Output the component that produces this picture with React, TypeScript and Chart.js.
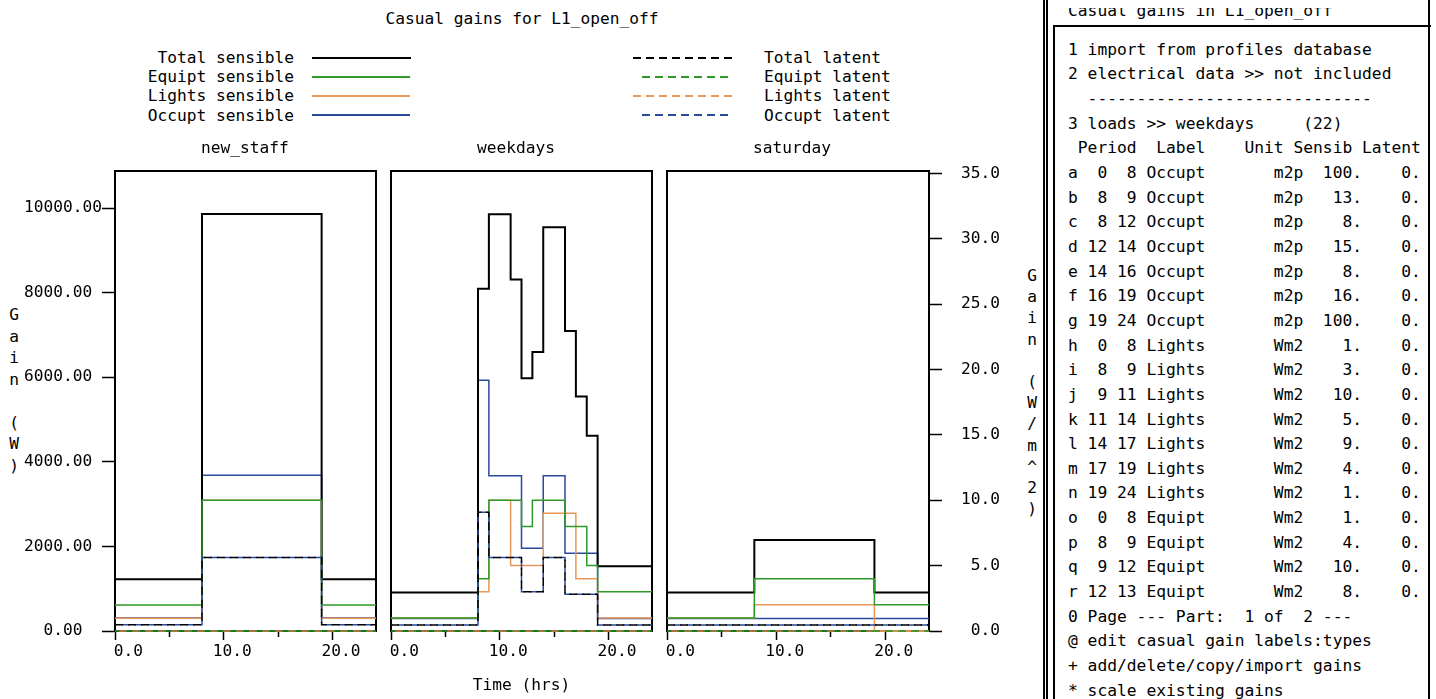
import React, { useEffect, useRef } from 'react';
import { Chart, registerables } from 'chart.js';

Chart.register(...registerables);

const MONO = "'DejaVu Sans Mono', monospace";

// ---------- texts ----------
const chartTitle = 'Casual gains for L1_open_off';
const panelTitles = ['new_staff', 'weekdays', 'saturday'];
const xAxisTitle = 'Time (hrs)';
const leftAxisTitle = 'Gain (W)';
const rightAxisTitle = 'Gain (W/m^2)';
const seriesNames = [
  'Total sensible', 'Equipt sensible', 'Lights sensible', 'Occupt sensible',
  'Total latent', 'Equipt latent', 'Lights latent', 'Occupt latent',
];

// ---------- ticks ----------
const xTickValues = [0, 5, 10, 15, 20];
const xTickLabels = ['0.0', '', '10.0', '', '20.0'];
const leftTickValues = [0, 2000, 4000, 6000, 8000, 10000];
const leftTickLabels = ['  0.00', '2000.00', '4000.00', '6000.00', '8000.00', '10000.00'];
const rightTickValues = [0, 5, 10, 15, 20, 25, 30, 35];
const rightTickLabels = ['0.0', '5.0', '10.0', '15.0', '20.0', '25.0', '30.0', '35.0'];
const leftAxisMax = 10875;
const rightAxisMax = 35.18;

// ---------- new_staff (W) ----------
const newStaffHours = [0, 8, 19, 24];
const newStaffTotalSensible = [1225, 9860, 1225];
const newStaffEquiptSensible = [615, 3090, 615];
const newStaffLightsSensible = [300, 3090, 300];
const newStaffOccuptSensible = [310, 3680, 310];
const newStaffTotalLatent = [147, 1735, 147];
const newStaffEquiptLatent = [0, 0, 0];
const newStaffLightsLatent = [0, 0, 0];
const newStaffOccuptLatent = [147, 1735, 147];

// ---------- weekdays (W/m^2) ----------
const weekdayHours = [0, 8, 9, 11, 12, 13, 14, 16, 17, 18, 19, 24];
const weekdayTotalSensible = [2.95, 26.18, 31.88, 26.88, 19.33, 21.33, 30.88, 22.94, 17.94, 14.94, 4.95];
const weekdayEquiptSensible = [1, 4, 10, 10, 8, 10, 10, 8, 8, 5, 3];
const weekdayLightsSensible = [1, 3, 10, 5, 5, 5, 9, 9, 4, 4, 1];
const weekdayOccuptSensible = [0.95, 19.18, 11.88, 11.88, 6.33, 6.33, 11.88, 5.94, 5.94, 5.94, 0.95];
const weekdayTotalLatent = [0.45, 9.09, 5.63, 5.63, 3.0, 3.0, 5.63, 2.81, 2.81, 2.81, 0.45];
const weekdayEquiptLatent = [0, 0, 0, 0, 0, 0, 0, 0, 0, 0, 0];
const weekdayLightsLatent = [0, 0, 0, 0, 0, 0, 0, 0, 0, 0, 0];
const weekdayOccuptLatent = [0.45, 9.09, 5.63, 5.63, 3.0, 3.0, 5.63, 2.81, 2.81, 2.81, 0.45];

// ---------- saturday (W/m^2) ----------
const saturdayHours = [0, 8, 19, 24];
const saturdayTotalSensible = [2.95, 6.95, 2.95];
const saturdayEquiptSensible = [1, 4, 2];
const saturdayLightsSensible = [1, 2, 0];
const saturdayOccuptSensible = [0.95, 0.95, 0.95];
const saturdayTotalLatent = [0.45, 0.45, 0.45];
const saturdayEquiptLatent = [0, 0, 0];
const saturdayLightsLatent = [0, 0, 0];
const saturdayOccuptLatent = [0.45, 0.45, 0.45];

// ---------- right-hand menu ----------
const menuHeader = 'Casual gains in L1_open_off';
const menuLines = [
  '1 import from profiles database',
  '2 electrical data >> not included',
  '  -----------------------------',
  '3 loads >> weekdays     (22)',
  ' Period  Label    Unit Sensib Latent',
  'a  0  8 Occupt       m2p  100.    0.',
  'b  8  9 Occupt       m2p   13.    0.',
  'c  8 12 Occupt       m2p    8.    0.',
  'd 12 14 Occupt       m2p   15.    0.',
  'e 14 16 Occupt       m2p    8.    0.',
  'f 16 19 Occupt       m2p   16.    0.',
  'g 19 24 Occupt       m2p  100.    0.',
  'h  0  8 Lights       Wm2    1.    0.',
  'i  8  9 Lights       Wm2    3.    0.',
  'j  9 11 Lights       Wm2   10.    0.',
  'k 11 14 Lights       Wm2    5.    0.',
  'l 14 17 Lights       Wm2    9.    0.',
  'm 17 19 Lights       Wm2    4.    0.',
  'n 19 24 Lights       Wm2    1.    0.',
  'o  0  8 Equipt       Wm2    1.    0.',
  'p  8  9 Equipt       Wm2    4.    0.',
  'q  9 12 Equipt       Wm2   10.    0.',
  'r 12 13 Equipt       Wm2    8.    0.',
  '0 Page --- Part:  1 of  2 ---',
  '@ edit casual gain labels:types',
  '+ add/delete/copy/import gains',
  '* scale existing gains',
];

// ---------- styles ----------
const seriesColors = ['#000000', '#2f9a2a', '#e89858', '#2a4a9c', '#000000', '#2f9a2a', '#e89858', '#2a4a9c'];
const seriesWidths = [2, 1.5, 1.5, 1.5, 1.5, 1.5, 1.5, 1.5];
const seriesDashOffsets = [0, 0, 0, 0, 0, 3, 9, 6.5];
// dataset index 0 is drawn on top
const drawOrder = [4, 7, 5, 6, 1, 0, 2, 3];

const CANVAS_W = 1040;
const CANVAS_H = 569;
const CANVAS_TOP = 130;
const TICK_FONT = { family: MONO, size: 16.2, lineHeight: 1.2 };

function steps(hours: number[], values: number[]) {
  const pts = values.map((v, i) => ({ x: hours[i], y: v }));
  pts.push({ x: hours[hours.length - 1], y: values[values.length - 1] });
  return pts;
}

const framePlugin = {
  id: 'frame',
  beforeDatasetsDraw(chart: any) {
    const { ctx, chartArea: a } = chart;
    ctx.save();
    ctx.strokeStyle = '#000';
    ctx.lineWidth = 2;
    ctx.strokeRect(a.left, a.top, a.right - a.left, a.bottom - a.top);
    ctx.restore();
  },
};

const panelTitlePlugin = {
  id: 'panelTitle',
  afterDraw(chart: any, _args: any, opts: any) {
    const { ctx, chartArea: a } = chart;
    ctx.save();
    ctx.font = `16.2px ${MONO}`;
    ctx.fillStyle = '#000';
    ctx.textBaseline = 'middle';
    ctx.textAlign = 'left';
    ctx.fillText(opts.text, a.left + 86, a.top - 22.5);
    ctx.restore();
  },
};

type PanelCfg = {
  title: string;
  hours: number[];
  series: number[][];
  yAxis: 'left' | 'none' | 'right';
  padLeft: number;
  padRight: number;
  showXTitle: boolean;
};

const panelCfgs: PanelCfg[] = [
  {
    title: panelTitles[0],
    hours: newStaffHours,
    series: [newStaffTotalSensible, newStaffEquiptSensible, newStaffLightsSensible, newStaffOccuptSensible,
      newStaffTotalLatent, newStaffEquiptLatent, newStaffLightsLatent, newStaffOccuptLatent],
    yAxis: 'left', padLeft: 24, padRight: CANVAS_W - 376, showXTitle: false,
  },
  {
    title: panelTitles[1],
    hours: weekdayHours,
    series: [weekdayTotalSensible, weekdayEquiptSensible, weekdayLightsSensible, weekdayOccuptSensible,
      weekdayTotalLatent, weekdayEquiptLatent, weekdayLightsLatent, weekdayOccuptLatent],
    yAxis: 'none', padLeft: 391, padRight: CANVAS_W - 652, showXTitle: true,
  },
  {
    title: panelTitles[2],
    hours: saturdayHours,
    series: [saturdayTotalSensible, saturdayEquiptSensible, saturdayLightsSensible, saturdayOccuptSensible,
      saturdayTotalLatent, saturdayEquiptLatent, saturdayLightsLatent, saturdayOccuptLatent],
    yAxis: 'right', padLeft: 667, padRight: CANVAS_W - 1000, showXTitle: false,
  },
];

function buildConfig(cfg: PanelCfg): any {
  const datasets = drawOrder.map((k) => ({
    label: seriesNames[k],
    data: steps(cfg.hours, cfg.series[k]),
    borderColor: seriesColors[k],
    backgroundColor: seriesColors[k],
    borderWidth: seriesWidths[k],
    borderDash: k >= 4 ? [8, 5] : [],
    borderDashOffset: seriesDashOffsets[k],
    stepped: true,
    fill: false,
    pointRadius: 0,
    tension: 0,
    clip: false,
  }));

  const xScale: any = {
    type: 'linear',
    min: 0,
    max: 24,
    bounds: 'data',
    afterBuildTicks: (s: any) => { s.ticks = xTickValues.map((v) => ({ value: v })); },
    afterFit: (s: any) => { s.height = 68; },
    grid: {
      drawOnChartArea: false,
      drawTicks: true,
      tickLength: 9,
      tickColor: '#000',
      tickWidth: 1.5,
      tickBorderDash: (ctx: any) => (ctx.tick && ctx.tick.value % 10 !== 0 ? [5, 30] : []),
    },
    border: { display: true, color: '#000', width: 2 },
    ticks: {
      autoSkip: false,
      maxRotation: 0,
      minRotation: 0,
      align: 'end',
      labelOffset: 28,
      padding: 2,
      color: '#000',
      font: TICK_FONT,
      callback: (v: number) => {
        const i = xTickValues.indexOf(v);
        return i >= 0 ? xTickLabels[i] : '';
      },
    },
    title: {
      display: cfg.showXTitle,
      text: xAxisTitle,
      color: '#000',
      font: TICK_FONT,
      padding: { top: 0, bottom: 3.4 },
    },
  };

  let yScale: any;
  if (cfg.yAxis === 'none') {
    yScale = { type: 'linear', display: false, min: 0, max: rightAxisMax, bounds: 'data' };
  } else {
    const isLeft = cfg.yAxis === 'left';
    const vals = isLeft ? leftTickValues : rightTickValues;
    const labs = isLeft ? leftTickLabels : rightTickLabels;
    yScale = {
      type: 'linear',
      position: isLeft ? 'left' : 'right',
      min: 0,
      max: isLeft ? leftAxisMax : rightAxisMax,
      bounds: 'data',
      afterBuildTicks: (s: any) => { s.ticks = vals.map((v) => ({ value: v })); },
      afterFit: (s: any) => { s.width = isLeft ? 91 : 71; },
      grid: { drawOnChartArea: false, drawTicks: true, tickLength: 13, tickColor: '#000', tickWidth: 1.5 },
      border: { display: true, color: '#000', width: 2 },
      ticks: {
        autoSkip: false,
        crossAlign: 'far',
        padding: 0,
        color: '#000',
        font: TICK_FONT,
        callback: (v: number) => {
          const i = vals.indexOf(v);
          return i >= 0 ? labs[i] : '';
        },
      },
    };
  }

  return {
    type: 'line',
    data: { datasets },
    options: {
      responsive: false,
      animation: false,
      devicePixelRatio: 1,
      layout: { padding: { left: cfg.padLeft, right: cfg.padRight, top: 41, bottom: 0 } },
      scales: { x: xScale, y: yScale },
      plugins: {
        legend: { display: false },
        title: { display: false },
        tooltip: { enabled: false },
        panelTitle: { text: cfg.title },
      },
      events: [],
    },
    plugins: [framePlugin, panelTitlePlugin],
  };
}

function PanelChart({ cfg }: { cfg: PanelCfg }) {
  const ref = useRef<HTMLCanvasElement | null>(null);
  useEffect(() => {
    if (!ref.current) return;
    const chart = new Chart(ref.current, buildConfig(cfg));
    return () => chart.destroy();
  }, [cfg]);
  return (
    <canvas
      ref={ref}
      width={CANVAS_W}
      height={CANVAS_H}
      style={{ position: 'absolute', left: 0, top: CANVAS_TOP, width: CANVAS_W, height: CANVAS_H }}
    />
  );
}

const legendRowY = [57.5, 76.8, 96.1, 115.4];
const textStyle: React.CSSProperties = {
  position: 'absolute',
  fontFamily: MONO,
  fontSize: 16.2,
  lineHeight: '19.3px',
  color: '#000',
  whiteSpace: 'pre',
};

function Legend() {
  const items: React.ReactNode[] = [];
  for (let r = 0; r < 4; r++) {
    const y = legendRowY[r];
    // sensible (solid)
    items.push(
      <div key={'ls' + r} style={{ ...textStyle, left: 0, width: 294, textAlign: 'right', top: y - 9.65 }}>
        {seriesNames[r]}
      </div>
    );
    items.push(
      <div key={'ss' + r} style={{ position: 'absolute', left: 312, width: r === 0 ? 99 : 98, top: y - 1, height: 2, background: seriesColors[r] }} />
    );
    // latent (dashed)
    const k = r + 4;
    const long = r % 2 === 0;
    items.push(
      <div
        key={'sd' + r}
        style={{
          position: 'absolute',
          left: long ? 633 : 641.5,
          width: long ? 99 : 86,
          top: y - 1,
          height: 2,
          background: `repeating-linear-gradient(to right, ${seriesColors[k]} 0px, ${seriesColors[k]} 8px, transparent 8px, transparent 13px)`,
        }}
      />
    );
    items.push(
      <div key={'ld' + r} style={{ ...textStyle, left: 764, top: y - 9.65 }}>
        {seriesNames[k]}
      </div>
    );
  }
  return <>{items}</>;
}

function VerticalLetters({ text, cx, top, step }: { text: string; cx: number; top: number; step: number }) {
  return (
    <div
      style={{
        position: 'absolute',
        left: cx - 10,
        width: 20,
        top: top - step / 2,
        fontFamily: MONO,
        fontSize: 16.2,
        lineHeight: step + 'px',
        textAlign: 'center',
        color: '#000',
        whiteSpace: 'pre',
      }}
    >
      {text.split('').join('\n')}
    </div>
  );
}

function MenuPanel() {
  return (
    <>
      <div
        style={{
          position: 'absolute',
          left: 1043,
          top: 0,
          width: 1430 - 1043 - 7,
          height: 699,
          borderLeft: '5px double #000',
          borderRight: '2px solid #000',
        }}
      />
      <div
        style={{
          position: 'absolute',
          left: 1053,
          top: 25,
          width: 1429 - 1053,
          height: 700,
          borderTop: '2px solid #000',
          borderLeft: '2px solid #000',
        }}
      />
      <div style={{ position: 'absolute', left: 1060, top: 7.5, width: 360, height: 16, overflow: 'hidden' }}>
        <div
          style={{
            position: 'absolute',
            left: 8,
            top: -6.5,
            fontFamily: MONO,
            fontSize: 16.3,
            lineHeight: '19.2px',
            whiteSpace: 'pre',
            color: '#000',
          }}
        >
          {menuHeader}
        </div>
      </div>
      <div
        style={{
          position: 'absolute',
          left: 1068,
          top: 50 - 12.33,
          fontFamily: MONO,
          fontSize: 16.3,
          lineHeight: '24.65px',
          whiteSpace: 'pre',
          color: '#000',
        }}
      >
        {menuLines.join('\n')}
      </div>
    </>
  );
}

export default function App() {
  return (
    <div
      style={{
        position: 'absolute',
        left: 0,
        top: 0,
        width: 1436,
        height: 699,
        overflow: 'hidden',
        background: '#fff',
      }}
    >
      <div style={{ ...textStyle, left: 0, width: 1044, textAlign: 'center', top: 19 - 9.65 }}>{chartTitle}</div>
      <Legend />
      <VerticalLetters text={leftAxisTitle} cx={14} top={315} step={21.5} />
      <VerticalLetters text={rightAxisTitle} cx={1032} top={275.6} step={21.2} />
      {panelCfgs.map((cfg, i) => (
        <PanelChart key={i} cfg={cfg} />
      ))}
      <MenuPanel />
    </div>
  );
}
